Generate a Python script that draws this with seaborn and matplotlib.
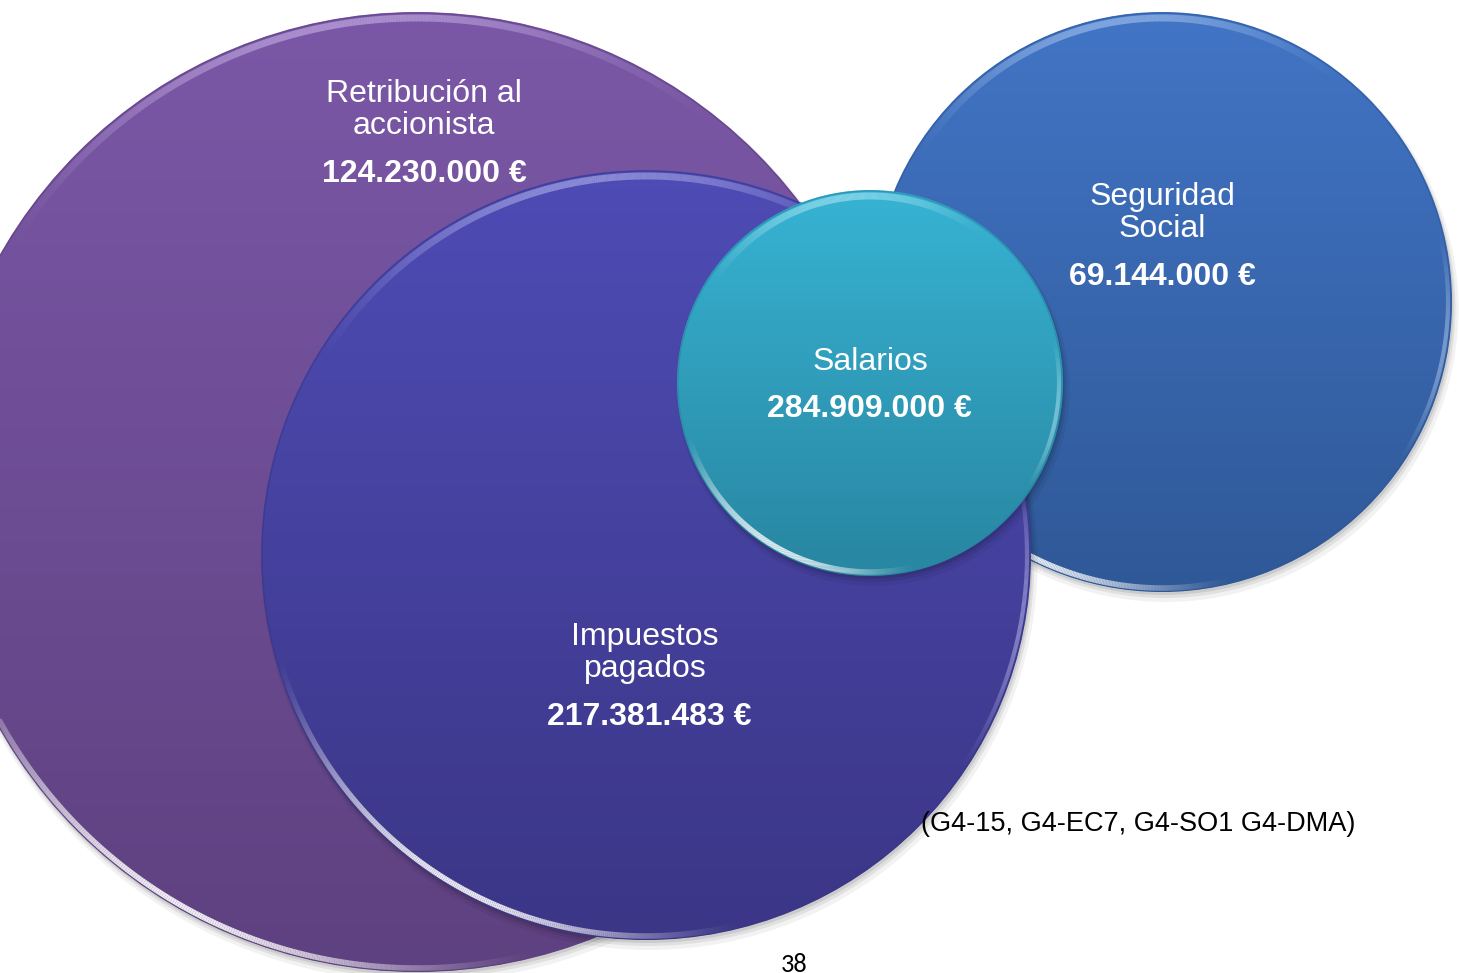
import numpy as np
import matplotlib
matplotlib.use("Agg")
import matplotlib.pyplot as plt
import seaborn as sns
from matplotlib.patches import Circle
from matplotlib.colors import LinearSegmentedColormap, to_rgba
from matplotlib.collections import LineCollection

# ---- data ----
categories = ["Retribución al\naccionista", "Seguridad\nSocial", "Impuestos\npagados", "Salarios"]
amounts = [124230000, 69144000, 217381483, 284909000]
footnote = "(G4-15, G4-EC7, G4-SO1 G4-DMA)"
page_number = "38"

# ---- layout / style (pixel coordinates, y downwards) ----
centers = [(417, 492), (1162, 302), (646, 555), (870, 383)]
radii = [480, 290, 385, 193]
top_colors = ["#7B58A7", "#4275C6", "#4E4CB5", "#37B3D3"]
bottom_colors = ["#5E4180", "#2F5897", "#3B3686", "#2886A1"]
rim_colors = ["#E6D2FF", "#CFE4FF", "#D6D6FF", "#D8FBFF"]
label_pos = [(424, 110), (1162, 213), (645, 653), (870, 362)]
value_pos = [(424, 174), (1162, 277), (649, 717), (869, 409)]

sns.set_theme(style="white")
plt.rcParams["font.family"] = ["Liberation Sans", "DejaVu Sans"]

W, H = 1459, 973
fig = plt.figure(figsize=(W / 100, H / 100), dpi=100)
ax = fig.add_axes([0, 0, 1, 1])
ax.set_xlim(0, W)
ax.set_ylim(H, 0)
ax.set_aspect("equal")
ax.axis("off")


def fmt(v):
    return f"{v:,}".replace(",", ".") + " €"


def rim(cx, cy, r, t0, t1, color, lw, amax, z):
    t = np.radians(np.linspace(t0, t1, 300))
    x = cx + r * np.cos(t)
    y = cy - r * np.sin(t)
    pts = np.array([x, y]).T.reshape(-1, 1, 2)
    segs = np.concatenate([pts[:-1], pts[1:]], axis=1)
    s = np.linspace(0, 1, len(segs))
    a = amax * np.sin(np.pi * s) ** 1.5
    c = np.array([to_rgba(color, ai) for ai in a])
    lc = LineCollection(segs, colors=c, linewidths=lw, zorder=z, capstyle="butt",
                        antialiased=True)
    ax.add_collection(lc)


grad = np.linspace(0, 1, 256).reshape(-1, 1)
for i, ((cx, cy), r) in enumerate(zip(centers, radii)):
    z = 2 + i * 3
    # shadow
    for off, alpha, dr in [(7, 0.05, 3), (5, 0.07, 1), (3, 0.09, 0)]:
        ax.add_patch(Circle((cx + off * 0.5, cy + off), r + dr, facecolor="black",
                            edgecolor="none", alpha=alpha, zorder=z))
    cmap = LinearSegmentedColormap.from_list(f"c{i}", [top_colors[i], bottom_colors[i]])
    clip = Circle((cx, cy), r, transform=ax.transData, facecolor="none", edgecolor="none")
    ax.add_patch(clip)
    im = ax.imshow(grad, cmap=cmap, extent=(cx - r, cx + r, cy + r, cy - r),
                   aspect="auto", zorder=z + 0.5, interpolation="bilinear")
    im.set_clip_path(clip)
    # edge
    ax.add_patch(Circle((cx, cy), r - 1, facecolor="none", edgecolor=bottom_colors[i],
                        lw=1.0, alpha=0.6, zorder=z + 0.6))
    # glossy rims
    rim(cx, cy, r - 6, 50, 150, rim_colors[i], 5, 0.45, z + 0.7)
    rim(cx, cy, r - 4, 195, 285, "white", 4, 0.9, z + 0.7)
    rim(cx, cy, r - 4, 325, 375, rim_colors[i], 3, 0.45, z + 0.7)

    ax.text(*label_pos[i], categories[i], color="white", fontsize=23, ha="center",
            va="center", linespacing=1.12, zorder=30)
    ax.text(*value_pos[i], fmt(amounts[i]), color="white", fontsize=23,
            fontweight="bold", ha="center", va="center", zorder=30)

ax.text(1138, 824, footnote, color="black", fontsize=19.5, ha="center", va="center", zorder=40)
ax.text(794, 964, page_number, color="black", fontsize=19, ha="center", va="center",
        family=["Carlito", "Liberation Sans", "DejaVu Sans"], zorder=40)

fig.savefig("out.png", dpi=100)
